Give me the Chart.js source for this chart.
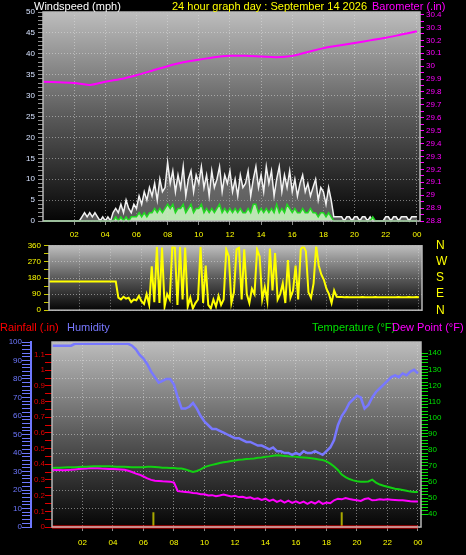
<!DOCTYPE html>
<html>
<head>
<meta charset="utf-8">
<script src="https://cdn.jsdelivr.net/npm/chart.js@4.4.1/dist/chart.umd.min.js"></script>
<style>
  body { margin: 0; background: #000; width: 466px; height: 555px; overflow: hidden; position: relative; font-family: 'Liberation Sans', Arial, sans-serif; }
  canvas { position: absolute; left: 0; }
  .lbl { position: absolute; font-size: 11px; line-height: 12px; white-space: nowrap; }
</style>
</head>
<body>
<canvas id="windChart" width="466" height="246" style="top:0"></canvas>
<canvas id="dirChart" width="466" height="80" style="top:238px"></canvas>
<canvas id="climateChart" width="466" height="219" style="top:336px"></canvas>

<div class="lbl" style="left:34px;top:0;color:#fff">Windspeed (mph)</div>
<div class="lbl" style="left:172px;top:0;color:#ffff00">24 hour graph day : September 14 2026</div>
<div class="lbl" style="left:372px;top:0;color:#ff00ff">Barometer (.in)</div>
<div class="lbl" style="left:0;top:321px;color:#ff0000">Rainfall (.in)</div>
<div class="lbl" style="left:67px;top:321px;color:#7878ff">Humidity</div>
<div class="lbl" style="left:312px;top:321px;color:#00e000">Temperature (°F)</div>
<div class="lbl" style="left:392px;top:321px;color:#ff00ff">Dew Point (°F)</div>

<script>
// x axis: hours of the day
const tickHours = [2, 4, 6, 8, 10, 12, 14, 16, 18, 20, 22, 24];
const hourLabels = ['02', '04', '06', '08', '10', '12', '14', '16', '18', '20', '22', '00'];

// sample spacing (minutes)
const windStep = 10;
const climateStep = 15;
const baroStep = 60;

// wind gust / speed (mph), every 10 min
const windGust = [
  0,0,0,0,0,0, 0,0,0,0,0,0, 0,0,0,1,2,1, 2,1,2,1,0,1,
  0,1,0,2,3,2, 4,2,5,3,2,4, 3,6,4,7,5,8, 6,9,5,10,7,8,
  14,9,12,7,11,8, 13,6,10,12,7,11, 9,13,8,11,6,12, 8,10,13,7,11,9,
  12,7,10,6,11,8, 9,12,6,10,13,8, 11,7,13,9,12,6, 10,13,7,11,8,12,
  7,10,6,9,11,7, 9,6,8,10,5,8, 7,4,8,5,1,1, 1,1,0,1,1,0,
  1,1,0,1,1,0, 1,0,0,0,0,0, 1,1,0,1,1,0, 1,1,1,0,1,1,
  1
];
const windAvg = [
  0,0,0,0,0,0, 0,0,0,0,0,0, 0,0,0,0,0,0, 0,0,0,0,0,0,
  0,0,0,0,1,0, 1,0,1,0,1,1, 1,2,1,2,1,2, 2,3,2,3,2,3,
  4,3,4,2,3,3, 4,2,3,4,2,3, 3,4,2,3,2,3, 2,3,4,2,3,2,
  3,2,3,2,3,2, 2,3,2,4,4,2, 3,2,3,2,3,2, 4,2,3,2,4,3,
  2,3,2,2,3,2, 2,3,2,2,1,2, 2,1,2,1,0,0, 0,0,0,0,0,0,
  0,0,0,0,0,0, 0,1,0,0,0,0, 0,0,0,0,0,0, 0,0,0,0,0,0,
  0
];

// barometer (inHg), hourly
const barometer = [29.88, 29.875, 29.87, 29.855, 29.88, 29.9, 29.93, 29.965, 30.0, 30.03, 30.05, 30.07, 30.08,
  30.08, 30.075, 30.07, 30.08, 30.11, 30.14, 30.16, 30.18, 30.2, 30.22, 30.245, 30.27];

// wind direction (degrees), every 10 min
const windDir = [
  160,160,160,160,160,160, 160,160,160,160,160,160, 160,160,160,160,160,160, 160,160,160,160,160,160,
  160,160,160,70,60,75, 65,70,45,60,55,80, 50,35,90,30,245,45, 355,40,350,20,90,60,
  355,350,30,355,60,350, 20,70,10,40,60,355, 40,250,30,10,60,20, 80,30,60,340,300,40,
  100,340,350,60,340,90, 40,120,90,340,300,60, 130,50,345,110,320,60, 90,150,40,280,70,110,
  250,60,340,360,330,100, 70,150,360,250,200,170, 120,90,40,110,75,74, 74,73,74,73,73,72,
  73,73,74,73,72,73, 73,74,73,73,72,73, 73,73,72,73,74,73, 73,73,74,73,73,74,
  73
];

// humidity (%), temperature and dew point (F), every 15 min
const humidity = [
  98,98,98,98, 98,98,99,99, 99,99,99,99, 99,99,99,99, 99,99,99,99, 99,98,96,93,
  91,88,84,81, 78,79,80,80, 77,70,64,64, 65,67,64,60, 57,55,53,53, 52,51,50,49,
  48,48,47,46, 46,45,44,44, 43,42,43,41, 41,40,40,39, 40,39,41,40, 40,41,40,39,
  41,43,47,55, 60,63,67,69, 71,70,64,66, 70,73,75,77, 79,81,82,81, 83,82,84,85,
  83
];
const temperature = [
  68.6,68.8,68.9,69.0, 69.1,69.2,69.2,69.3, 69.4,69.5,69.6,69.7, 69.8,69.8,69.7,69.7,
  69.6,69.5,69.5,69.4, 69.3,69.2,69.2,69.1, 69.2,69.4,69.5,69.3, 69.1,68.9,68.8,68.7,
  68.6,68.4,68.3,67.8, 67.0,66.2,66.8,67.8, 69.2,70.0,70.6,71.2, 71.8,72.3,72.5,73.0,
  73.3,73.8,74.0,74.3, 74.4,74.6,75.0,75.2, 75.6,75.9,76.3,76.6, 76.4,76.2,76.0,75.9,
  75.6,75.4,75.2,75.0, 74.8,74.4,74.0,73.6, 72.8,71.4,69.6,67.4, 64.6,63.0,61.8,61.0,
  60.4,60.2,60.2,60.3, 61.4,59.6,58.4,57.6, 57.0,56.4,55.8,55.4, 55.0,54.5,54.0,53.8,
  53.7
];
const dewPoint = [
  67.6,67.5,67.4,67.3, 67.5,67.6,67.8,68.0, 68.2,68.4,68.6,68.5, 68.5,68.3,68.2,68.1,
  68.0,67.9,67.8,67.6, 67.0,66.2,65.2,64.5, 63.4,62.2,61.3,60.8, 60.6,60.4,60.3,60.2,
  59.6,54.3,54.0,53.8, 53.6,53.2,53.0,52.4, 52.4,51.6,51.8,51.2, 51.6,52.2,51.6,51.0,
  51.4,50.6,50.8,50.0, 50.4,49.4,49.8,48.8, 49.6,48.2,49.0,47.6, 48.6,47.2,48.4,47.0,
  48.0,46.8,47.8,46.4, 47.6,46.6,48.0,46.4, 47.2,46.8,48.6,49.6, 49.2,50.0,49.4,49.0,
  48.6,48.2,49.4,49.8, 48.6,48.8,49.2,49.0, 49.2,49.0,48.8,48.6, 48.6,48.3,48.0,47.8,
  47.9
];

// rainfall (in), hourly
const rainfall = [0,0,0,0,0,0,0,0,0,0,0,0,0,0,0,0,0,0,0,0,0,0,0,0,0];

// sunrise / sunset markers (hours) and their height on the humidity scale
const sunTimes = [6.65, 19.0];
const sunMarkHeight = 8;

// axis tick values
const windTicks = [0, 5, 10, 15, 20, 25, 30, 35, 40, 45, 50];
const baroTicks = [28.8, 28.9, 29, 29.1, 29.2, 29.3, 29.4, 29.5, 29.6, 29.7, 29.8, 29.9, 30, 30.1, 30.2, 30.3, 30.4];
const dirTicks = [0, 90, 180, 270, 360];
const compassLabels = ['N', 'E', 'S', 'W', 'N'];
const humidityTicks = [0, 10, 20, 30, 40, 50, 60, 70, 80, 90, 100];
const rainTicks = [0, 0.1, 0.2, 0.3, 0.4, 0.5, 0.6, 0.7, 0.8, 0.9, 1, 1.1];
const tempTicks = [40, 50, 60, 70, 80, 90, 100, 110, 120, 130, 140];

const gridColor = 'rgba(225,225,225,0.5)';
const tickFont = { family: 'Liberation Sans', size: 8 };

function toPoints(values, stepMinutes) {
  return values.map((v, i) => ({ x: i * stepMinutes / 60, y: v }));
}

// major ticks with labels plus unlabeled minor ticks in between
function withMinor(major, minorStep) {
  const out = [];
  const lo = major[0], hi = major[major.length - 1];
  const n = Math.round((hi - lo) / minorStep);
  for (let i = 0; i <= n; i++) {
    const v = +(lo + i * minorStep).toFixed(4);
    out.push({ value: v, major: major.some(m => Math.abs(m - v) < 1e-6) });
  }
  return out;
}

const plotBackground = {
  id: 'plotBackground',
  beforeDraw(chart) {
    const { ctx, chartArea: a } = chart;
    const g = ctx.createLinearGradient(0, a.top, 0, a.bottom);
    g.addColorStop(0, '#bdbdbd');
    g.addColorStop(0.5, '#5a5a5a');
    g.addColorStop(1, '#050505');
    ctx.save();
    ctx.fillStyle = g;
    ctx.fillRect(a.left, a.top, a.right - a.left, a.bottom - a.top);
    ctx.restore();
  },
  afterDraw(chart) {
    const { ctx, chartArea: a } = chart;
    ctx.save();
    ctx.strokeStyle = '#b8b8b8';
    ctx.lineWidth = 1.5;
    ctx.strokeRect(a.left, a.top, a.right - a.left, a.bottom - a.top);
    ctx.restore();
  }
};

function hourAxis(max, height, showLabels, pad) {
  return {
    type: 'linear',
    min: 0,
    max: max,
    afterBuildTicks: s => { s.ticks = tickHours.map(v => ({ value: v })); },
    afterFit: s => { s.height = height; },
    ticks: {
      display: showLabels,
      color: '#ffff00',
      font: tickFont,
      padding: pad,
      autoSkip: false,
      maxRotation: 0,
      callback: v => hourLabels[tickHours.indexOf(v)]
    },
    grid: { color: gridColor, tickColor: '#8a8a8a', tickLength: showLabels ? 4 : 0, drawTicks: showLabels },
    border: { display: false, dash: [1, 2] }
  };
}

// ticks.padding also pads the chart area vertically, so the label gap is made with tickLength
function valueAxis(cfg) {
  return {
    type: 'linear',
    position: cfg.position,
    min: cfg.min,
    max: cfg.max,
    weight: cfg.weight || 0,
    afterBuildTicks: s => { s.ticks = withMinor(cfg.ticks, cfg.minor); },
    afterFit: s => { s.width = cfg.width; },
    ticks: {
      color: cfg.color,
      font: tickFont,
      padding: cfg.padding,
      autoSkip: false,
      callback: (v, i, ticks) => ticks[i].major ? String(+v.toFixed(2)) : ''
    },
    grid: {
      drawOnChartArea: !!cfg.grid,
      color: c => (c.tick && c.tick.major) ? gridColor : 'transparent',
      tickColor: cfg.tickColor || cfg.color,
      tickLength: cfg.tickLength
    },
    border: cfg.border || { display: false, dash: [1, 2] }
  };
}

const common = {
  responsive: false,
  animation: false,
  devicePixelRatio: 1,
  events: [],
  plugins: { legend: { display: false }, tooltip: { enabled: false } },
  elements: { point: { radius: 0 }, line: { tension: 0 } }
};

// Top: wind speed and barometer
new Chart(document.getElementById('windChart'), {
  type: 'line',
  data: {
    datasets: [
      {
        data: toPoints(barometer, baroStep), yAxisID: 'baro',
        borderColor: '#ff00ff', borderWidth: 2, tension: 0.3, fill: false
      },
      {
        data: toPoints(windAvg, windStep), yAxisID: 'wind',
        borderColor: '#22d822', borderWidth: 1.5, fill: 'origin',
        backgroundColor: 'rgba(200,245,190,0.9)', clip: 3
      },
      {
        data: toPoints(windGust, windStep), yAxisID: 'wind',
        borderColor: '#f2f2f2', borderWidth: 1.5, fill: 'origin',
        backgroundColor: 'rgba(160,160,160,0.55)', clip: 3
      }
    ]
  },
  options: {
    ...common,
    layout: { padding: { top: 12 } },
    scales: {
      x: hourAxis(24.2, 25, true, 5),
      wind: valueAxis({
        position: 'left', min: 0, max: 50, ticks: windTicks, minor: 1, width: 43,
        color: '#d6e2ff', tickColor: '#909090', tickLength: 5, padding: 3, grid: true
      }),
      baro: valueAxis({
        position: 'right', min: 28.8, max: 30.42, ticks: baroTicks, minor: 0.05, width: 46,
        color: '#ff00ff', tickLength: 4, padding: 2
      })
    }
  },
  plugins: [plotBackground]
});

// Middle: wind direction
new Chart(document.getElementById('dirChart'), {
  type: 'line',
  data: {
    datasets: [{
      data: toPoints(windDir, windStep), yAxisID: 'dir',
      borderColor: '#ffff00', borderWidth: 2, fill: false
    }]
  },
  options: {
    ...common,
    layout: { padding: { top: 6 } },
    scales: {
      x: hourAxis(24.2, 5, false, 0),
      dir: valueAxis({
        position: 'left', min: 0, max: 360, ticks: dirTicks, minor: 45, width: 49,
        color: '#ffff00', tickColor: '#c8c800', tickLength: 5, padding: 3, grid: true
      }),
      compass: {
        type: 'linear', position: 'right', min: 0, max: 360,
        afterBuildTicks: s => { s.ticks = dirTicks.map(v => ({ value: v })); },
        afterFit: s => { s.width = 44; },
        ticks: {
          color: '#ffff00', font: { family: 'Liberation Sans', size: 12 }, padding: 0,
          autoSkip: false,
          callback: (v, i) => compassLabels[i]
        },
        grid: { display: false, drawTicks: true, tickLength: 14 },
        border: { display: false }
      }
    }
  },
  plugins: [plotBackground]
});

// Bottom: humidity, rainfall, temperature, dew point
const sunData = sunTimes.flatMap((t, i) => {
  const pts = [{ x: t, y: 0 }, { x: t, y: sunMarkHeight }];
  if (i < sunTimes.length - 1) pts.push({ x: (t + sunTimes[i + 1]) / 2, y: null });
  return pts;
});

new Chart(document.getElementById('climateChart'), {
  type: 'line',
  data: {
    datasets: [
      {
        data: toPoints(rainfall, 60), yAxisID: 'rain',
        borderColor: '#ff0000', borderWidth: 3, fill: false, clip: 4
      },
      {
        data: toPoints(humidity, climateStep), yAxisID: 'hum',
        borderColor: '#7878ff', borderWidth: 2.5, fill: false
      },
      {
        data: toPoints(temperature, climateStep), yAxisID: 'temp',
        borderColor: '#12d012', borderWidth: 2, fill: false
      },
      {
        data: toPoints(dewPoint, climateStep), yAxisID: 'temp',
        borderColor: '#ff00ff', borderWidth: 2, fill: false
      },
      {
        data: sunData, yAxisID: 'hum',
        borderColor: '#a8a800', borderWidth: 2, fill: false, spanGaps: false
      }
    ]
  },
  options: {
    ...common,
    layout: { padding: { top: 6 } },
    scales: {
      x: hourAxis(24.2, 28, true, 7),
      hum: valueAxis({
        position: 'left', min: 0, max: 100, ticks: humidityTicks, minor: 2, width: 31, weight: 2,
        color: '#6e78ff', tickLength: 9, padding: 0, grid: true,
        border: { display: true, color: '#6e78ff', width: 2, dash: [1, 2] }
      }),
      rain: valueAxis({
        position: 'left', min: 0, max: 1.18, ticks: rainTicks, minor: 0.05, width: 21, weight: 1,
        color: '#e00000', tickLength: 7, padding: 0
      }),
      temp: valueAxis({
        position: 'right', min: 32, max: 147, ticks: tempTicks, minor: 2, width: 45,
        color: '#00e000', tickLength: 7, padding: 0
      })
    }
  },
  plugins: [plotBackground]
});
</script>
</body>
</html>
